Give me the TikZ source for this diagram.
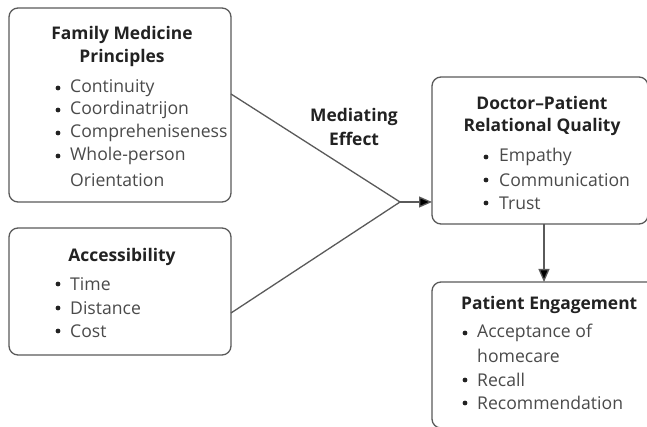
\documentclass[tikz,border=0pt]{standalone}
\usepackage{fontspec}
\setmainfont{Open Sans}
\usetikzlibrary{arrows.meta}
\definecolor{ink}{HTML}{222222}
\definecolor{soft}{HTML}{4A4A4A}
\definecolor{edge}{HTML}{5A5A5A}
\begin{document}
\begin{tikzpicture}[x=1pt,y=-1pt,
  panel/.style={draw=edge,line width=1.3pt,rounded corners=9pt},
  heading/.style={font=\fontsize{17.4}{17.4}\selectfont\bfseries,text=ink,inner sep=0pt},
  item/.style={font=\fontsize{17.6}{17.6}\selectfont,text=soft,inner sep=0pt,anchor=west},
  dot/.style={fill=ink,circle,inner sep=0pt,minimum size=4.8pt},
  link/.style={draw=edge,line width=1.3pt},
  tip/.style={-{Triangle[length=13pt,width=11pt,fill=black]}}]
\useasboundingbox (0,0) rectangle (647,427);
\fill[white] (0,0) rectangle (647,427);

% boxes
\path[panel] (9,8) rectangle (231,202);
\path[panel] (9,228) rectangle (231,355);
\path[panel] (432,77) rectangle (648,224);
\path[panel] (432,282) rectangle (680,428);

% anchors for the connectors
\coordinate (fmp) at (231,94);
\coordinate (acc) at (231,313);
\coordinate (join) at (400,202);
\coordinate (drq) at (432,202);
\coordinate (drqb) at (544,224);
\coordinate (pe) at (544,282);

% Family Medicine Principles
\node[heading] (t1a) at (122,35) {Family Medicine};
\node[heading] (t1b) at (122,58) {Principles};
\foreach \y/\txt [count=\i] in {88/Continuity,110/Coordinatrijon,133/Compreheniseness,156/Whole-person}{
  \node[dot] (b1\i) at (58,\y) {};
  \node[item] (i1\i) at (70,\y) {\txt};
}
\node[item] (i15) at (70,180) {Orientation};

% Accessibility
\node[heading] (t2) at (122,257) {Accessibility};
\foreach \y/\txt [count=\i] in {284/Time,308/Distance,331/Cost}{
  \node[dot] (b2\i) at (58,\y) {};
  \node[item] (i2\i) at (70,\y) {\txt};
}

% Doctor-Patient Relational Quality
\node[heading] (t3a) at (542,103) {Doctor–Patient};
\node[heading] (t3b) at (542,127) {Relational Quality};
\foreach \y/\txt [count=\i] in {157/Empathy,180/Communication,203/Trust}{
  \node[dot] (b3\i) at (486,\y) {};
  \node[item] (i3\i) at (499,\y) {\txt};
}

% Patient Engagement
\node[heading,anchor=west] (t4) at (461,305) {Patient Engagement};
\foreach \y/\txt [count=\i] in {333/Acceptance of,380/Recall,403/Recommendation}{
  \node[dot] (b4\i) at (465,\y) {};
  \node[item] (i4\i) at (477,\y) {\txt};
}
\node[item] (i45) at (477,356) {homecare};

% mediating label
\node[heading] (m1) at (354,117) {Mediating};
\node[heading] (m2) at (354,139) {Effect};

% connectors
\draw[link] (fmp) -- (join);
\draw[link] (acc) -- (join);
\draw[link,tip] (join) -- (drq);
\draw[link,tip] (drqb) -- (pe);
\end{tikzpicture}
\end{document}
